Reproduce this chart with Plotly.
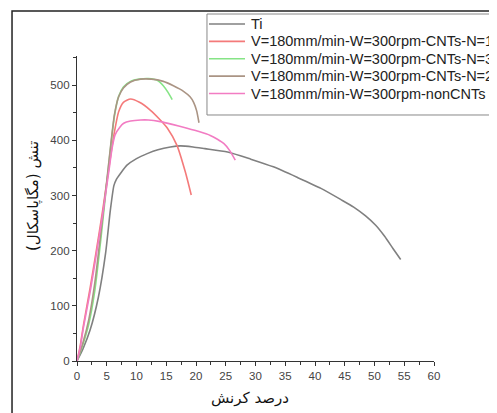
import plotly.graph_objects as go

# ---- data (strain %, stress MPa) ----
names = ["Ti",
         "V=180mm/min-W=300rpm-CNTs-N=1",
         "V=180mm/min-W=300rpm-CNTs-N=3",
         "V=180mm/min-W=300rpm-CNTs-N=2",
         "V=180mm/min-W=300rpm-nonCNTs"]

ti_x = [0, 1.0, 2.2, 3.6, 4.8, 5.6, 6.2, 6.6, 7.3, 8.4, 10.0, 11.8, 13.6, 15.7, 17.4, 19.5, 21.5, 25.3, 29.2, 33.0, 37.0, 41.0, 44.3, 46.5, 48.5, 50.2, 51.7, 53.1, 54.4]
ti_y = [0, 22, 56, 116, 195, 273, 318, 329, 340, 355, 367, 376, 383, 388, 390, 388, 385, 379, 366, 352, 333, 313, 293, 279, 263, 246, 226, 204, 184]

n1_x = [0, 0.5, 1.1, 2.2, 3.2, 4.3, 5.3, 6.2, 7.0, 7.8, 9.0, 10.5, 12.3, 14.0, 15.2, 16.8, 18.2, 19.2]
n1_y = [0, 25, 66, 132, 197, 272, 346, 410, 452, 469, 475, 469, 455, 437, 422, 391, 343, 301]

n3_x = [0, 1.0, 2.0, 3.0, 4.0, 5.0, 5.7, 6.3, 7.0, 7.8, 9.0, 10.5, 12.0, 13.5, 14.5, 15.3, 16.0]
n3_y = [0, 30, 68, 128, 220, 322, 392, 445, 480, 497, 507, 511, 512, 509, 499, 487, 474]

n2_x = [0, 1.0, 2.0, 3.0, 4.0, 5.0, 5.7, 6.3, 7.0, 7.8, 9.0, 10.7, 12.5, 14.5, 16.2, 17.9, 19.0, 19.6, 20.1, 20.5]
n2_y = [0, 33, 76, 142, 232, 326, 395, 447, 479, 495, 506, 511, 511, 507, 499, 489, 479, 469, 454, 432]

nc_x = [0, 0.5, 1.1, 2.2, 3.2, 4.3, 5.3, 5.9, 6.4, 7.2, 7.85, 9.0, 10.7, 12.0, 14.0, 16.0, 18.5, 20.5, 22.4, 23.6, 24.7, 25.7, 26.6]
nc_y = [0, 22, 62, 125, 190, 265, 340, 386, 410, 424, 431, 435, 437, 437, 434, 429, 422, 416, 409, 402, 394, 381, 364]

series_x = [ti_x, n1_x, n3_x, n2_x, nc_x]
series_y = [ti_y, n1_y, n3_y, n2_y, nc_y]
colors = ["#808080", "#f47a7a", "#86e486", "#aa9484", "#f27cc3"]

x_ticks = list(range(0, 61, 5))
y_ticks = list(range(0, 501, 100))

fig = go.Figure()
for nm, xs, ys, c in zip(names, series_x, series_y, colors):
    fig.add_trace(go.Scatter(x=xs, y=ys, mode="lines", name=nm, showlegend=False,
                             line=dict(color=c, width=1.6, shape="spline", smoothing=0.6)))

axis_common = dict(showgrid=False, zeroline=False, showline=True, linecolor="#333",
                   linewidth=1.3, ticks="outside", tickcolor="#333", ticklen=4,
                   tickwidth=1.2, tickfont=dict(family="Arial", size=11.5, color="#444"))

fig.update_xaxes(range=[0, 60], tickvals=x_ticks, ticktext=[str(v) for v in x_ticks],
                 minor=dict(dtick=2.5, ticks="outside", ticklen=2.5, tickcolor="#333"),
                 **axis_common)
fig.update_yaxes(range=[0, 553], tickvals=y_ticks, ticktext=[str(v) for v in y_ticks],
                 minor=dict(dtick=50, ticks="outside", ticklen=2.5, tickcolor="#333"),
                 **axis_common)

fig.add_annotation(text="تنش (مگاپاسکال)", xref="paper", yref="paper", x=-0.1204, y=0.541,
                   xanchor="center", yanchor="middle",
                   textangle=-90, showarrow=False,
                   font=dict(family="DejaVu Sans", size=15, color="#111"))
fig.add_annotation(text="درصد کرنش", xref="paper", yref="paper", x=0.4846, y=-0.12,
                   xanchor="center", yanchor="middle",
                   showarrow=False, font=dict(family="DejaVu Sans", size=15, color="#111"))

# outer frame
fig.add_shape(type="rect", xref="paper", yref="paper", x0=-0.182, y0=-0.5, x1=1.6, y1=1.1475,
              line=dict(color="#222", width=1.5), layer="below")

# legend box (drawn as shapes + text so the row spacing matches)
fig.add_shape(type="rect", xref="paper", yref="paper", x0=0.3641, y0=0.8066, x1=1.35, y1=1.1377,
              line=dict(color="#888", width=1), fillcolor="white", layer="above")
row_y0, row_step = 1.1049, 0.0570
for i, (nm, c) in enumerate(zip(names, colors)):
    yy = row_y0 - i * row_step
    fig.add_shape(type="line", xref="paper", yref="paper", x0=0.3697, x1=0.4706, y0=yy, y1=yy,
                  line=dict(color=c, width=1.6), layer="above")
    fig.add_annotation(text=nm, xref="paper", yref="paper", x=0.4818, y=yy,
                       xanchor="left", yanchor="middle", showarrow=False,
                       font=dict(family="Arial", size=14.5, color="#222"))

fig.update_layout(
    width=497, height=413,
    margin=dict(l=69, r=71, t=48, b=60, autoexpand=False),
    paper_bgcolor="white", plot_bgcolor="white",
    showlegend=False,
)

fig.write_html("out.html")
